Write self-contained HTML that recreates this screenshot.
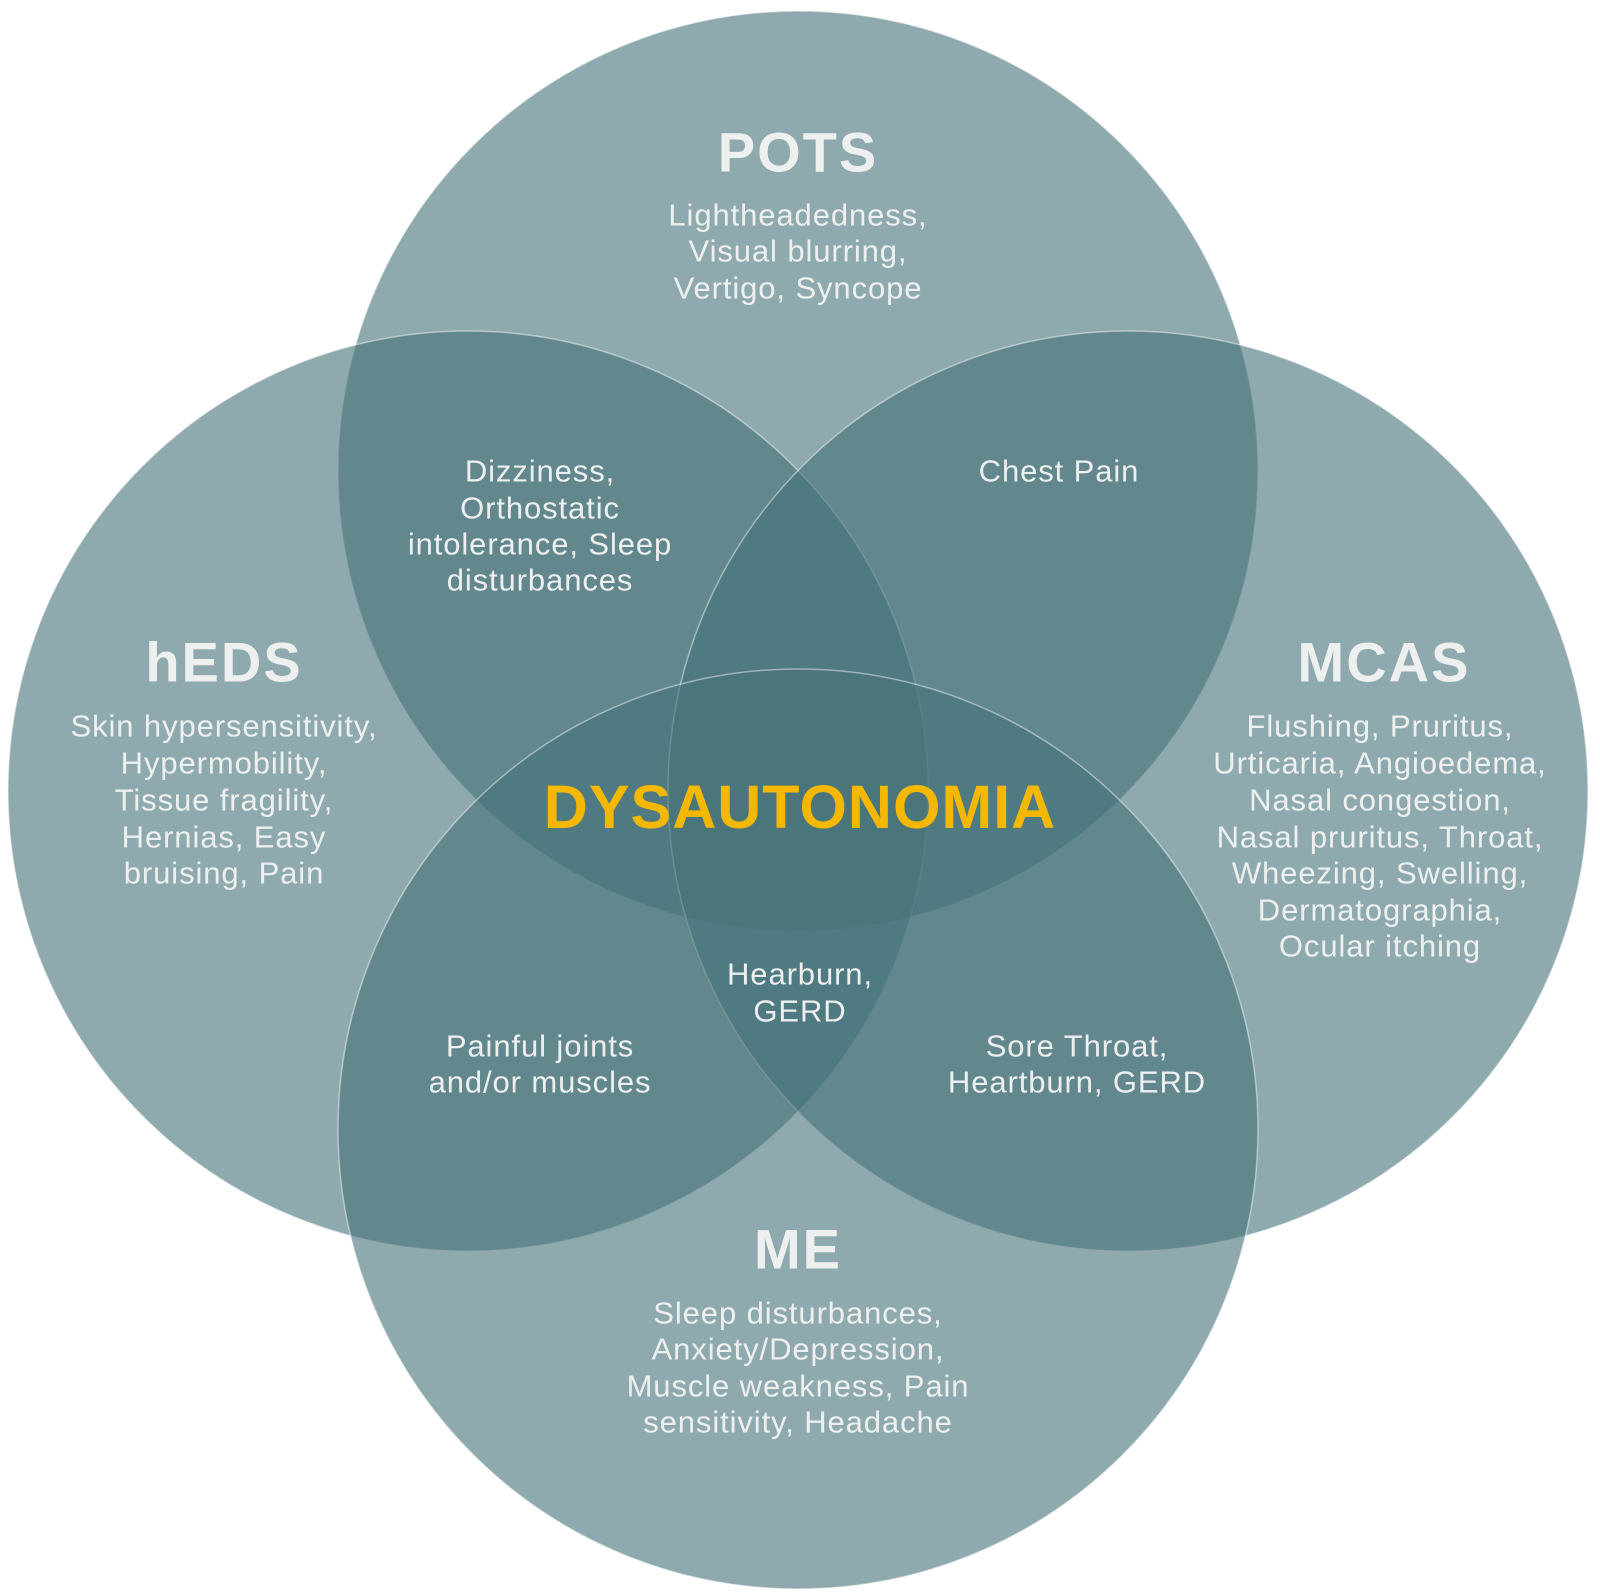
<!DOCTYPE html>
<html><head><meta charset="utf-8"><style>
html,body{margin:0;padding:0;background:#fff;}
svg{display:block;}
text{font-family:"Liberation Sans",sans-serif;text-anchor:middle;dominant-baseline:central;fill:#eef0f0;}
.t{font-size:56px;font-weight:bold;letter-spacing:2px;}
.b{font-size:31px;letter-spacing:0.9px;}
</style></head><body>
<svg width="1600" height="1594" viewBox="0 0 1600 1594" xmlns="http://www.w3.org/2000/svg">
<g fill="#447178" fill-opacity="0.6" stroke="#ffffff" stroke-opacity="0.45" stroke-width="1.5">
<circle cx="798" cy="471" r="460"/>
<circle cx="468" cy="791" r="460"/>
<circle cx="1128" cy="791" r="460"/>
<circle cx="798" cy="1129" r="460"/>
</g>
<text class="t" x="798" y="152">POTS</text>
<text class="b" x="798" y="215">Lightheadedness,</text>
<text class="b" x="798" y="251">Visual blurring,</text>
<text class="b" x="798" y="288">Vertigo, Syncope</text>

<text class="t" x="224" y="662">hEDS</text>
<text class="b" x="224" y="726">Skin hypersensitivity,</text>
<text class="b" x="224" y="763">Hypermobility,</text>
<text class="b" x="224" y="800">Tissue fragility,</text>
<text class="b" x="224" y="837">Hernias, Easy</text>
<text class="b" x="224" y="873">bruising, Pain</text>

<text class="t" x="1384" y="662">MCAS</text>
<text class="b" x="1380" y="726">Flushing, Pruritus,</text>
<text class="b" x="1380" y="763">Urticaria, Angioedema,</text>
<text class="b" x="1380" y="800">Nasal congestion,</text>
<text class="b" x="1380" y="837">Nasal pruritus, Throat,</text>
<text class="b" x="1380" y="873">Wheezing, Swelling,</text>
<text class="b" x="1380" y="910">Dermatographia,</text>
<text class="b" x="1380" y="946">Ocular itching</text>

<text class="t" x="798" y="1249">ME</text>
<text class="b" x="798" y="1313">Sleep disturbances,</text>
<text class="b" x="798" y="1349">Anxiety/Depression,</text>
<text class="b" x="798" y="1386">Muscle weakness, Pain</text>
<text class="b" x="798" y="1422">sensitivity, Headache</text>

<text class="b" x="540" y="471">Dizziness,</text>
<text class="b" x="540" y="508">Orthostatic</text>
<text class="b" x="540" y="544">intolerance, Sleep</text>
<text class="b" x="540" y="580">disturbances</text>

<text class="b" x="1059" y="471">Chest Pain</text>

<text x="800" y="807" style="font-size:61px;font-weight:bold;fill:#f5b800;letter-spacing:1px">DYSAUTONOMIA</text>

<text class="b" x="800" y="974">Hearburn,</text>
<text class="b" x="800" y="1011">GERD</text>

<text class="b" x="540" y="1046">Painful joints</text>
<text class="b" x="540" y="1082">and/or muscles</text>

<text class="b" x="1077" y="1046">Sore Throat,</text>
<text class="b" x="1077" y="1082">Heartburn, GERD</text>
</svg>
</body></html>
